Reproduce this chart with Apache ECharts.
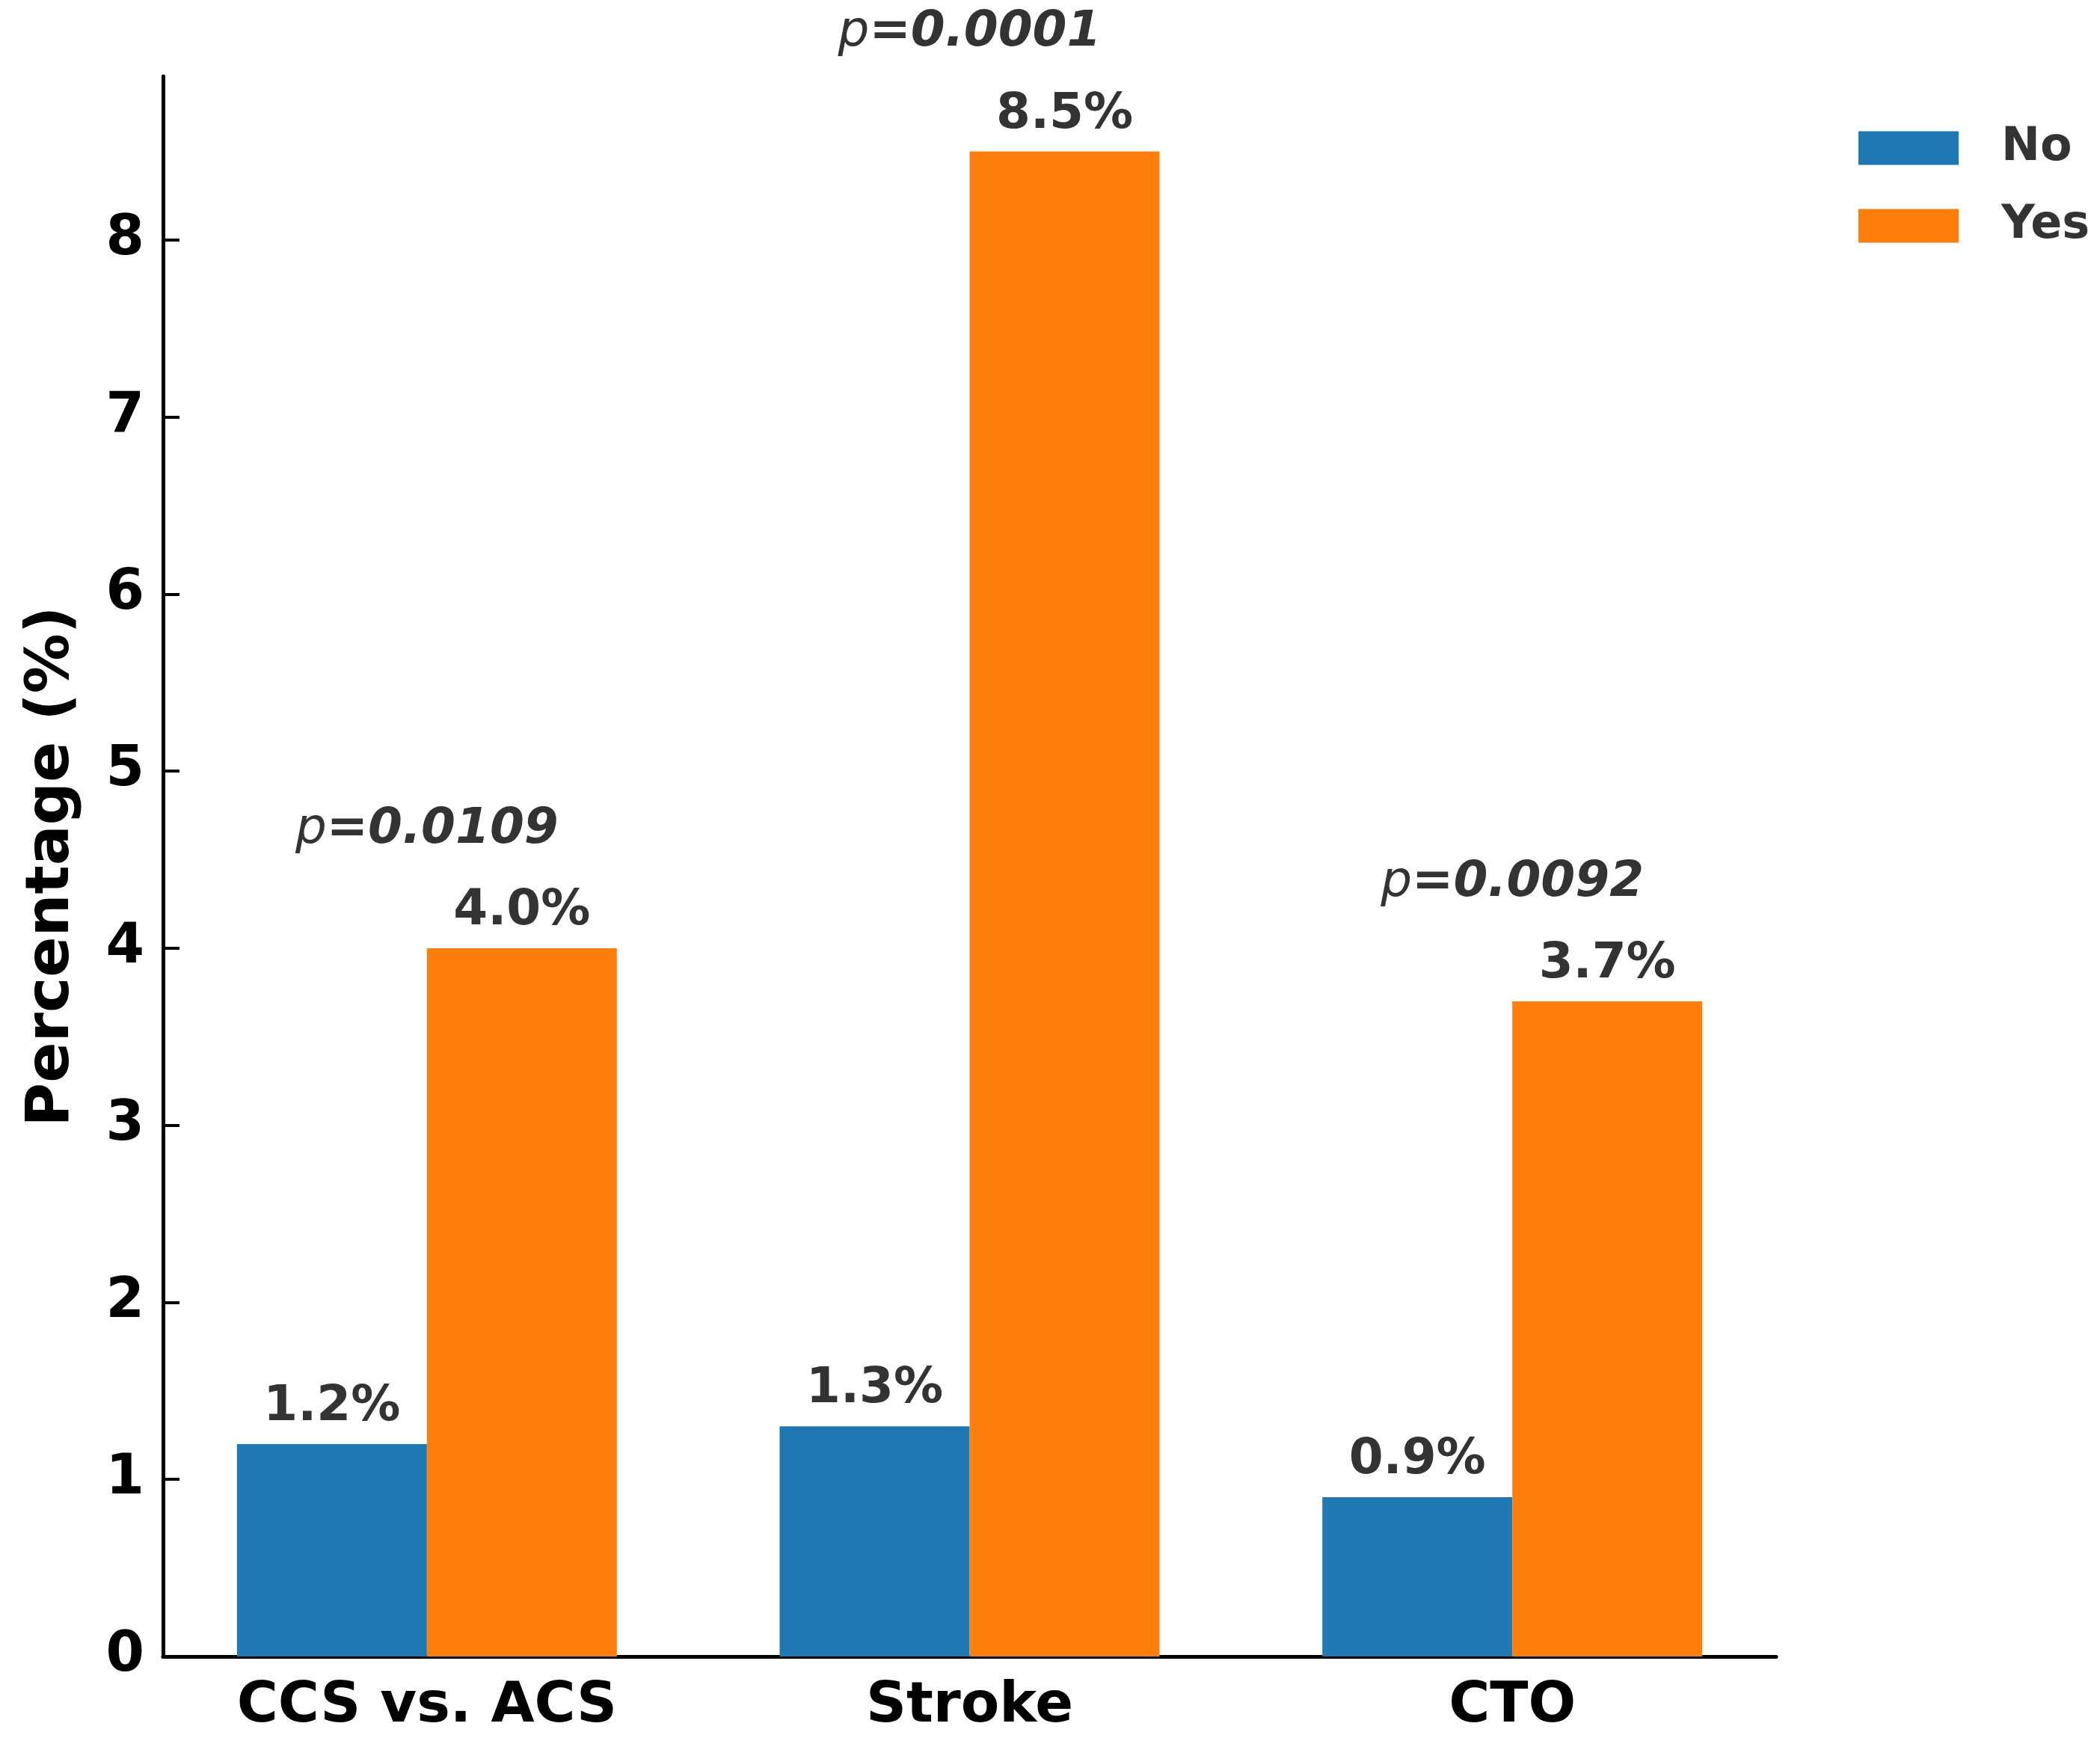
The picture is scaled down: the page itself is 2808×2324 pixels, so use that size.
<!DOCTYPE html>
<html>
<head>
<meta charset="utf-8">
<script src="https://cdn.jsdelivr.net/npm/echarts@6/dist/echarts.min.js"></script>
<style>
  html, body { margin: 0; padding: 0; background: #fff; }
  #chart { width: 2808px; height: 2324px; }
</style>
</head>
<body>
<div id="chart"></div>
<script>
// data
const categories = ['CCS vs. ACS', 'Stroke', 'CTO'];
const seriesNames = ['No', 'Yes'];
const noValues = [1.2, 1.3, 0.9];
const yesValues = [4.0, 8.5, 3.7];
const pValues = ['0.0109', '0.0001', '0.0092'];
const yTicks = [0, 1, 2, 3, 4, 5, 6, 7, 8];

const FONT = 'DejaVu Sans';
const yMax = 8.925;
const pOffset = 0.67; // p label sits a bit above the taller bar

let chart = echarts.init(document.getElementById('chart'));

// p-value anchor points: category index, above the higher bar
let pPoints = categories.map(function (c, i) {
    return [i, Math.max(noValues[i], yesValues[i]) + pOffset];
});

let barLabel = {
    show: true,
    position: 'top',
    distance: 16,
    fontFamily: FONT,
    fontSize: 66,
    fontWeight: 'bold',
    color: '#333',
    formatter: function (p) {
        return p.value.toFixed(1) + '%';
    }
};

let option = {
    animation: false,
    backgroundColor: '#fff',
    // grid 0: the visible frame (spines, y ticks); grid 1: bars, slightly wider band layout
    grid: [
        { left: 218, right: 433, top: 102, bottom: 109, outerBoundsMode: 'none' },
        { left: 208, right: 423, top: 102, bottom: 109, outerBoundsMode: 'none' }
    ],
    legend: {
        data: seriesNames,
        orient: 'vertical',
        left: 2480,
        top: 162,
        icon: 'rect',
        itemWidth: 134,
        itemHeight: 45,
        itemGap: 42,
        textStyle: {
            fontFamily: FONT,
            fontSize: 62,
            fontWeight: 'bold',
            color: '#333',
            lineHeight: 62,
            padding: [0, 0, 0, 52]
        }
    },
    xAxis: [
        {
            gridIndex: 0,
            type: 'value',
            min: 0,
            max: 1,
            axisLine: { show: true, onZero: false, lineStyle: { color: '#000', width: 5 } },
            axisTick: { show: false },
            axisLabel: { show: false },
            splitLine: { show: false }
        },
        {
            gridIndex: 1,
            type: 'category',
            data: categories,
            boundaryGap: true,
            axisLine: { show: false },
            axisTick: { show: false },
            axisLabel: {
                fontFamily: FONT,
                fontSize: 75,
                fontWeight: 'bold',
                color: '#000',
                margin: 30
            },
            splitLine: { show: false }
        }
    ],
    yAxis: [
        {
            gridIndex: 0,
            type: 'value',
            min: 0,
            max: yMax,
            name: 'Percentage (%)',
            nameLocation: 'middle',
            nameGap: 108,
            nameTextStyle: {
                fontFamily: FONT,
                fontSize: 80,
                fontWeight: 'bold',
                color: '#000'
            },
            axisLine: { show: true, lineStyle: { color: '#000', width: 5 } },
            axisTick: {
                show: true,
                inside: true,
                length: 22,
                customValues: yTicks,
                lineStyle: { color: '#000', width: 4 }
            },
            axisLabel: {
                customValues: yTicks,
                fontFamily: FONT,
                fontSize: 74,
                fontWeight: 'bold',
                color: '#000',
                margin: 25
            },
            splitLine: { show: false }
        },
        {
            gridIndex: 1,
            type: 'value',
            min: 0,
            max: yMax,
            axisLine: { show: false },
            axisTick: { show: false },
            axisLabel: { show: false },
            splitLine: { show: false }
        }
    ],
    series: [
        {
            name: seriesNames[0],
            type: 'bar',
            xAxisIndex: 1,
            yAxisIndex: 1,
            data: noValues,
            barWidth: '35%',
            barGap: '0%',
            itemStyle: { color: '#1f77b4' },
            label: barLabel
        },
        {
            name: seriesNames[1],
            type: 'bar',
            xAxisIndex: 1,
            yAxisIndex: 1,
            data: yesValues,
            barWidth: '35%',
            barGap: '0%',
            itemStyle: { color: '#ff7f0e' },
            label: barLabel
        },
        {
            name: 'p',
            type: 'scatter',
            xAxisIndex: 1,
            yAxisIndex: 1,
            data: pPoints,
            symbolSize: 0,
            clip: false,
            silent: true,
            z: 5,
            itemStyle: { opacity: 1 },
            label: {
                show: true,
                position: 'inside',
                formatter: function (p) {
                    return '{p|p}{v|=' + pValues[p.dataIndex] + '}';
                },
                rich: {
                    p: {
                        fontFamily: FONT,
                        fontSize: 66,
                        fontStyle: 'italic',
                        fontWeight: 'normal',
                        color: '#333'
                    },
                    v: {
                        fontFamily: FONT,
                        fontSize: 66,
                        fontStyle: 'italic',
                        fontWeight: 'bold',
                        color: '#333'
                    }
                }
            }
        }
    ]
};

chart.setOption(option);
</script>
</body>
</html>
